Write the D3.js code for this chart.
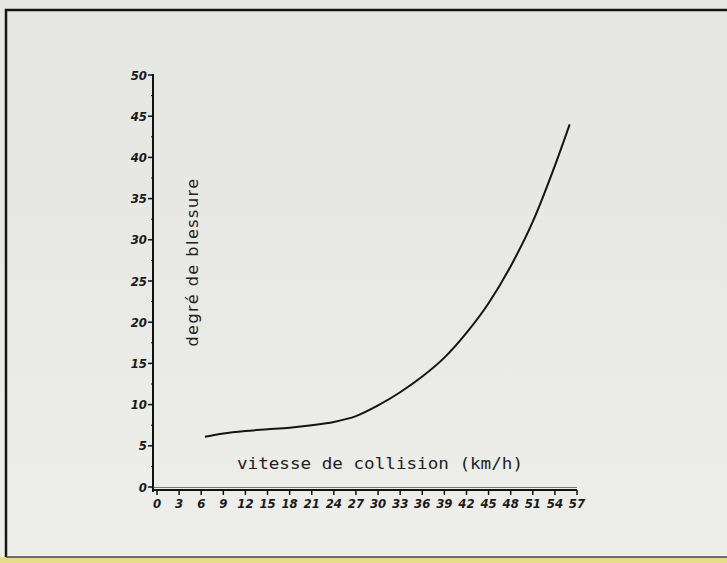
<!DOCTYPE html>
<html>
<head>
<meta charset="utf-8">
<script src="https://cdn.jsdelivr.net/npm/d3@7"></script>
<style>
  body { margin: 0; background: #e9e9e6; }
  svg { display: block; }
</style>
</head>
<body>
<div id="chart"></div>
<script>
// Data
const speeds = [6.5, 9, 12, 15, 18, 21, 24, 27, 30, 33, 36, 39, 42, 45, 48, 51, 54, 56];
const injury = [6.1, 6.5, 6.8, 7.0, 7.2, 7.5, 7.9, 8.6, 9.9, 11.5, 13.4, 15.7, 18.7, 22.3, 26.8, 32.2, 39.0, 44.0];
const xTicks = d3.range(0, 58, 3);
const yTicks = d3.range(0, 51, 5);
const yMinor = d3.range(2.5, 50, 5);

const W = 727, H = 563;

const svg = d3.select("#chart")
    .append("svg")
    .attr("width", W)
    .attr("height", H);

// paper + frame
const grad = svg.append("defs").append("linearGradient")
    .attr("id", "paper").attr("x1", 0).attr("x2", 0).attr("y1", 0).attr("y2", 1);
grad.append("stop").attr("offset", "0").attr("stop-color", "#e6e6e3");
grad.append("stop").attr("offset", "0.45").attr("stop-color", "#e8e8e5");
grad.append("stop").attr("offset", "1").attr("stop-color", "#eeeeeb");
svg.append("rect").attr("width", W).attr("height", H).attr("fill", "url(#paper)");
svg.append("rect").attr("x", 0).attr("y", 557).attr("width", W).attr("height", 6)
    .attr("fill", "#e6dc8a");
svg.append("path")
    .attr("d", `M6,557V10H${W}`)
    .attr("fill", "none")
    .attr("stroke", "#151515")
    .attr("stroke-width", 2.5);
svg.append("line").attr("x1", 6).attr("x2", W).attr("y1", 557).attr("y2", 557)
    .attr("stroke", "#444").attr("stroke-width", 1.5);

// Scales
const x = d3.scaleLinear().domain([0, 57]).range([157, 577]);
const y = d3.scaleLinear().domain([0, 50]).range([487, 75]);
const axisX = 153;
const axisY = 490;

const tickFont = "'DejaVu Sans Condensed', 'Liberation Sans Narrow', sans-serif";

// Y axis
const yAxis = svg.append("g").attr("transform", `translate(${axisX},0)`);
yAxis.append("line").attr("y1", 74).attr("y2", axisY + 2)
    .attr("stroke", "#111").attr("stroke-width", 2);
yAxis.selectAll(".yt").data(yTicks).enter().append("line")
    .attr("x1", -5).attr("x2", 0)
    .attr("y1", d => y(d)).attr("y2", d => y(d))
    .attr("stroke", "#111").attr("stroke-width", 1.5);
yAxis.selectAll(".ym").data(yMinor).enter().append("line")
    .attr("x1", -2).attr("x2", 0)
    .attr("y1", d => y(d)).attr("y2", d => y(d))
    .attr("stroke", "#111").attr("stroke-width", 1);
yAxis.selectAll(".yl").data(yTicks).enter().append("text")
    .attr("x", -6).attr("y", d => y(d)).attr("dy", "0.35em")
    .attr("text-anchor", "end")
    .style("font-family", tickFont)
    .style("font-style", "italic").style("font-weight", "bold")
    .style("font-size", "13px").attr("fill", "#1a1a1a")
    .text(d => d);

// X axis
const xAxis = svg.append("g");
xAxis.append("line").attr("x1", axisX).attr("x2", 577)
    .attr("y1", axisY).attr("y2", axisY)
    .attr("stroke", "#111").attr("stroke-width", 2.2);
xAxis.append("line").attr("x1", axisX).attr("x2", 577)
    .attr("y1", axisY - 2.5).attr("y2", axisY - 2.5)
    .attr("stroke", "#444").attr("stroke-width", 0.7);
xAxis.selectAll(".xt").data(xTicks).enter().append("line")
    .attr("x1", d => x(d)).attr("x2", d => x(d))
    .attr("y1", axisY).attr("y2", axisY + 5)
    .attr("stroke", "#111").attr("stroke-width", 1.5);
xAxis.selectAll(".xl").data(xTicks).enter().append("text")
    .attr("x", d => x(d)).attr("y", axisY + 18)
    .attr("text-anchor", "middle")
    .style("font-family", tickFont)
    .style("font-style", "italic").style("font-weight", "bold")
    .style("font-size", "13px").attr("fill", "#1a1a1a")
    .text(d => d);

// Axis titles
svg.append("text")
    .attr("transform", `translate(198,262) rotate(-90)`)
    .attr("text-anchor", "middle")
    .style("font-family", "'DejaVu Sans', sans-serif")
    .style("font-size", "16px").style("letter-spacing", "1.5px")
    .attr("fill", "#222")
    .text("degré de blessure");

svg.append("text")
    .attr("x", 237).attr("y", 469)
    .attr("textLength", 286).attr("lengthAdjust", "spacingAndGlyphs")
    .style("font-family", "'DejaVu Sans Mono', monospace")
    .style("font-size", "16px")
    .attr("fill", "#222")
    .text("vitesse de collision (km/h)");

// Curve
const pts = speeds.map((s, i) => ({ s: s, v: injury[i] }));
const line = d3.line()
    .x(d => x(d.s))
    .y(d => y(d.v))
    .curve(d3.curveMonotoneX);

svg.append("path")
    .datum(pts)
    .attr("d", line)
    .attr("fill", "none")
    .attr("stroke", "#141414")
    .attr("stroke-width", 2);
</script>
</body>
</html>
